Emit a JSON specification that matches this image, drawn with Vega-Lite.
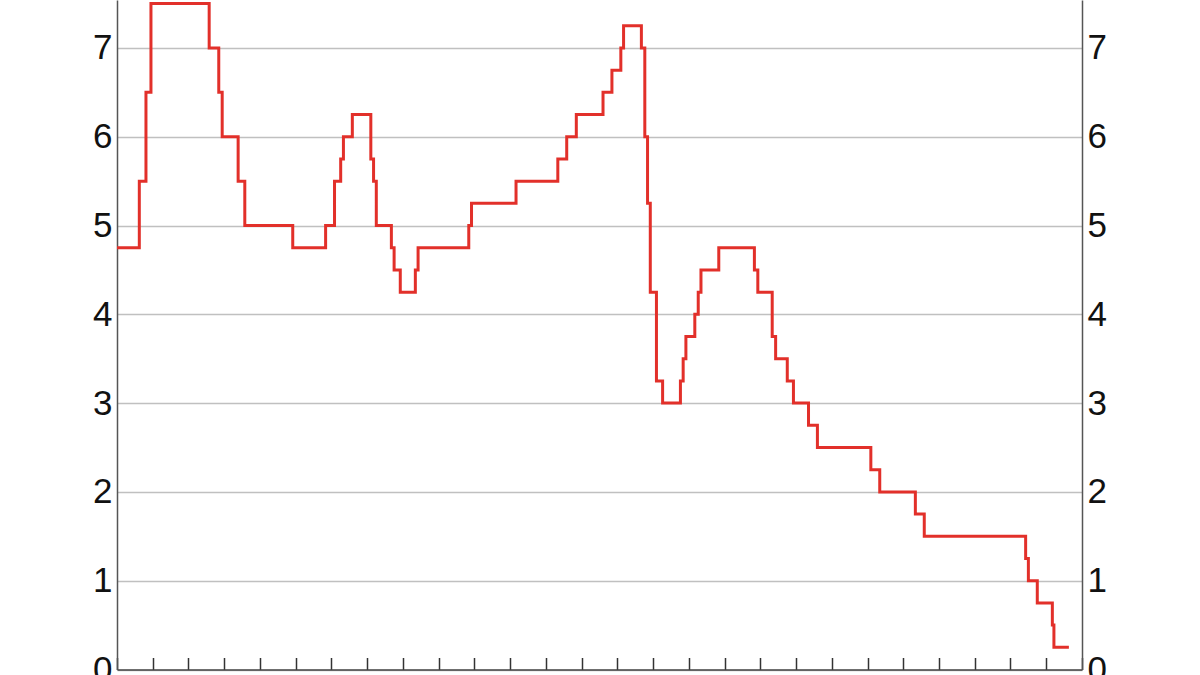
{
  "$schema": "https://vega.github.io/schema/vega-lite/v6.json",
  "autosize": {"type": "none"},
  "width": 965,
  "height": 669.5,
  "padding": {"left": 117, "top": 0, "right": 118, "bottom": 5.5},
  "background": "white",
  "config": {"view": {"stroke": null}, "font": "Liberation Sans"},
  "data": {"values": [
    {"date": "1994-01-01", "rate": 4.75},
    {"date": "1994-08-17", "rate": 5.5},
    {"date": "1994-10-24", "rate": 6.5},
    {"date": "1994-12-14", "rate": 7.5},
    {"date": "1996-07-31", "rate": 7.0},
    {"date": "1996-11-06", "rate": 6.5},
    {"date": "1996-12-11", "rate": 6.0},
    {"date": "1997-05-23", "rate": 5.5},
    {"date": "1997-07-30", "rate": 5.0},
    {"date": "1998-12-02", "rate": 4.75},
    {"date": "1999-11-03", "rate": 5.0},
    {"date": "2000-02-02", "rate": 5.5},
    {"date": "2000-04-05", "rate": 5.75},
    {"date": "2000-05-03", "rate": 6.0},
    {"date": "2000-08-02", "rate": 6.25},
    {"date": "2001-02-07", "rate": 5.75},
    {"date": "2001-03-07", "rate": 5.5},
    {"date": "2001-04-04", "rate": 5.0},
    {"date": "2001-09-05", "rate": 4.75},
    {"date": "2001-10-03", "rate": 4.5},
    {"date": "2001-12-05", "rate": 4.25},
    {"date": "2002-05-08", "rate": 4.5},
    {"date": "2002-06-05", "rate": 4.75},
    {"date": "2003-11-05", "rate": 5.0},
    {"date": "2003-12-03", "rate": 5.25},
    {"date": "2005-03-02", "rate": 5.5},
    {"date": "2006-05-03", "rate": 5.75},
    {"date": "2006-08-02", "rate": 6.0},
    {"date": "2006-11-08", "rate": 6.25},
    {"date": "2007-08-08", "rate": 6.5},
    {"date": "2007-11-07", "rate": 6.75},
    {"date": "2008-02-06", "rate": 7.0},
    {"date": "2008-03-05", "rate": 7.25},
    {"date": "2008-09-03", "rate": 7.0},
    {"date": "2008-10-08", "rate": 6.0},
    {"date": "2008-11-05", "rate": 5.25},
    {"date": "2008-12-03", "rate": 4.25},
    {"date": "2009-02-04", "rate": 3.25},
    {"date": "2009-04-08", "rate": 3.0},
    {"date": "2009-10-07", "rate": 3.25},
    {"date": "2009-11-04", "rate": 3.5},
    {"date": "2009-12-02", "rate": 3.75},
    {"date": "2010-03-03", "rate": 4.0},
    {"date": "2010-04-07", "rate": 4.25},
    {"date": "2010-05-05", "rate": 4.5},
    {"date": "2010-11-03", "rate": 4.75},
    {"date": "2011-11-02", "rate": 4.5},
    {"date": "2011-12-07", "rate": 4.25},
    {"date": "2012-05-02", "rate": 3.75},
    {"date": "2012-06-06", "rate": 3.5},
    {"date": "2012-10-03", "rate": 3.25},
    {"date": "2012-12-05", "rate": 3.0},
    {"date": "2013-05-08", "rate": 2.75},
    {"date": "2013-08-07", "rate": 2.5},
    {"date": "2015-02-04", "rate": 2.25},
    {"date": "2015-05-06", "rate": 2.0},
    {"date": "2016-05-04", "rate": 1.75},
    {"date": "2016-08-03", "rate": 1.5},
    {"date": "2019-06-05", "rate": 1.25},
    {"date": "2019-07-03", "rate": 1.0},
    {"date": "2019-10-02", "rate": 0.75},
    {"date": "2020-03-04", "rate": 0.5},
    {"date": "2020-03-20", "rate": 0.25},
    {"date": "2020-08-20", "rate": 0.25}
  ]},
  "layer": [
    {
      "mark": {"type": "line", "interpolate": "step-after", "color": "#e2302a", "strokeWidth": 3, "clip": true},
      "encoding": {
        "x": {
          "field": "date", "type": "temporal",
          "scale": {"domain": [{"year": 1994, "month": 1, "date": 1}, {"year": 2021, "month": 1, "date": 1}]},
          "axis": {
            "orient": "bottom", "title": null, "labels": false, "grid": false,
            "tickCount": {"interval": "year", "step": 1},
            "tickSize": -12, "tickColor": "#333", "tickWidth": 1.5,
            "domainColor": "#444", "domainWidth": 1.5
          }
        },
        "y": {
          "field": "rate", "type": "quantitative",
          "scale": {"domain": [0, 7.54], "nice": false, "zero": true},
          "axis": {
            "orient": "left", "title": null, "values": [0, 1, 2, 3, 4, 5, 6, 7],
            "grid": true, "gridColor": "#c0c0c0", "gridWidth": 1.5,
            "ticks": false, "labelPadding": 5, "labelFontSize": 35, "labelColor": "#111",
            "domainColor": "#555", "domainWidth": 1.5, "labelFont": "Liberation Sans"
          }
        }
      }
    },
    {
      "mark": {"type": "line", "opacity": 0},
      "encoding": {
        "x": {"field": "date", "type": "temporal"},
        "y": {
          "field": "rate", "type": "quantitative",
          "axis": {
            "orient": "right", "title": null, "values": [0, 1, 2, 3, 4, 5, 6, 7],
            "grid": false, "ticks": false, "labelPadding": 5, "labelFontSize": 35, "labelColor": "#111",
            "domainColor": "#555", "domainWidth": 1.5, "labelFont": "Liberation Sans"
          }
        }
      }
    }
  ],
  "resolve": {"axis": {"y": "independent"}}
}
